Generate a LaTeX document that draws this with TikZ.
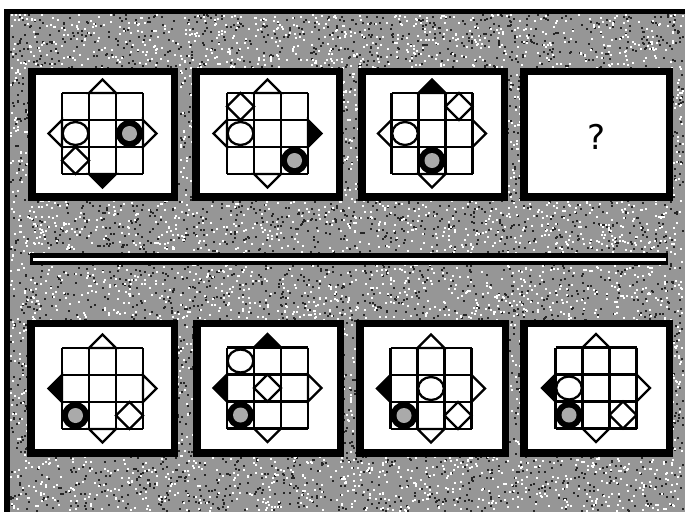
\documentclass[tikz,border=0pt]{standalone}
\usepackage{fontspec}
\newfontfamily\qfont{DejaVu Sans}
\definecolor{bggray}{RGB}{150,150,150}
\definecolor{speck}{RGB}{170,170,170}
\tikzset{
  ln/.style={line width=2.3pt, line join=miter},
  tri/.style={ln, fill=white},
  blacktri/.style={ln, fill=black},
}
% triangle on side: rotation 0 top, 90 left, 180 bottom, 270 right
\newcommand\ptri[2]{\draw[#2, rotate=#1] (-13.5,-40.5) -- (0,-54) -- (13.5,-40.5) -- cycle;}
\newcommand\pcirc[2]{\draw[ln, fill=white] ({(#1-2)*27},{(#2-2)*27}) ellipse [x radius=12.8, y radius=11.5];}
\newcommand\pdark[2]{\fill[black] ({(#1-2)*27},{(#2-2)*27}) circle [radius=13.5];
  \fill[speck] ({(#1-2)*27},{(#2-2)*27}) circle [radius=7.5];}
\newcommand\pdiam[2]{\draw[ln] ({(#1-2)*27-13.5},{(#2-2)*27}) -- ({(#1-2)*27},{(#2-2)*27-13.5}) -- ({(#1-2)*27+13.5},{(#2-2)*27}) -- ({(#1-2)*27},{(#2-2)*27+13.5}) -- cycle;}
\newcommand\pgridlines{\foreach \k in {-40.5,-13.5,13.5,40.5} {\draw[ln] (\k,-40.5) -- (\k,40.5); \draw[ln] (-40.5,\k) -- (40.5,\k);}}
\newcommand\pframe[4]{\fill[black] (#1,#2) rectangle (#3,#4); \fill[white] ({#1+8},{#2+7}) rectangle ({#3-7},{#4-8});}
\begin{document}
\begin{tikzpicture}[x=1pt,y=-1pt]
\useasboundingbox (0,0) rectangle (685,512);
\fill[white] (0,0) rectangle (685,512);
\fill[bggray] (7,9) rectangle (685,512);
% noise texture of the background
\pgfmathsetseed{7}
\foreach \i in {1,...,5000} {%
  \pgfmathsetmacro\rx{10+random(0,672)}%
  \pgfmathsetmacro\ry{14+random(0,496)}%
  \fill[black!85] (\rx,\ry) rectangle ++(1.6,1.6);}
\foreach \i in {1,...,5500} {%
  \pgfmathsetmacro\rx{10+random(0,672)}%
  \pgfmathsetmacro\ry{14+random(0,496)}%
  \fill[white] (\rx,\ry) rectangle ++(1.6,1.6);}
\fill[black] (7,9) rectangle (685,14);
\fill[black] (4,9) rectangle (10,512);
% separator
\fill[black] (30,253) rectangle (668,265);
\fill[white] (33,257.5) rectangle (666,260.5);
% frames
\pframe{28}{68}{178}{201}
\pframe{192}{68}{343}{201}
\pframe{358}{68}{508}{201}
\pframe{520}{68}{673}{201}
\pframe{27}{320}{178}{457}
\pframe{193}{320}{344}{457}
\pframe{356}{320}{509}{457}
\pframe{520}{320}{673}{457}
% panel 1
\begin{scope}[shift={(102.5,133.5)}]
  \ptri{0}{tri}\ptri{90}{tri}\ptri{180}{blacktri}\ptri{270}{tri}
  \pcirc{1}{2}\pdark{3}{2}\pdiam{1}{3}
  \pgridlines
\end{scope}
% panel 2
\begin{scope}[shift={(267.5,133.5)}]
  \ptri{0}{tri}\ptri{90}{tri}\ptri{180}{tri}\ptri{270}{blacktri}
  \pdiam{1}{1}\pcirc{1}{2}\pdark{3}{3}
  \pgridlines
\end{scope}
% panel 3
\begin{scope}[shift={(432,133.5)}]
  \ptri{0}{blacktri}\ptri{90}{tri}\ptri{180}{tri}\ptri{270}{tri}
  \pdiam{3}{1}\pcirc{1}{2}\pdark{2}{3}
  \pgridlines
\end{scope}
% panel 4
\node[font=\qfont\fontsize{34}{34}\selectfont] (q) at (596.5,137) {?};
% answer A
\begin{scope}[shift={(102.5,388.5)}]
  \ptri{0}{tri}\ptri{90}{blacktri}\ptri{180}{tri}\ptri{270}{tri}
  \pdark{1}{3}\pdiam{3}{3}
  \pgridlines
\end{scope}
% answer B
\begin{scope}[shift={(267.5,388)}]
  \ptri{0}{blacktri}\ptri{90}{blacktri}\ptri{180}{tri}\ptri{270}{tri}
  \pcirc{1}{1}\pdiam{2}{2}\pdark{1}{3}
  \pgridlines
\end{scope}
% answer C
\begin{scope}[shift={(431,388.5)}]
  \ptri{0}{tri}\ptri{90}{blacktri}\ptri{180}{tri}\ptri{270}{tri}
  \pcirc{2}{2}\pdark{1}{3}\pdiam{3}{3}
  \pgridlines
\end{scope}
% answer D
\begin{scope}[shift={(596,388)}]
  \ptri{0}{tri}\ptri{90}{blacktri}\ptri{180}{tri}\ptri{270}{tri}
  \pcirc{1}{2}\pdark{1}{3}\pdiam{3}{3}
  \pgridlines
\end{scope}
\end{tikzpicture}
\end{document}
